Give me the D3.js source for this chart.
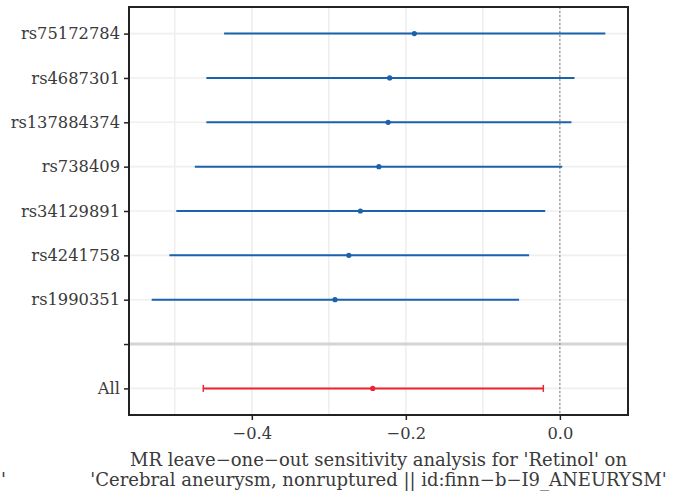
<!DOCTYPE html>
<html>
<head>
<meta charset="utf-8">
<script src="https://cdn.jsdelivr.net/npm/d3@7"></script>
<style>
  body { margin: 0; background: #fff; }
</style>
</head>
<body>
<div id="viz-container"></div>
<script>
// leave-one-out estimates (top row first)
const snps = ["rs75172784", "rs4687301", "rs137884374", "rs738409", "rs34129891", "rs4241758", "rs1990351", "", "All"];
const estimate = [-0.189, -0.221, -0.223, -0.235, -0.259, -0.274, -0.292, null, -0.243];
const lower = [-0.436, -0.459, -0.459, -0.474, -0.498, -0.507, -0.530, null, -0.463];
const upper = [0.059, 0.019, 0.015, 0.003, -0.019, -0.040, -0.053, null, -0.0215];
const xTicks = [-0.4, -0.2, 0.0];
const xMinor = [-0.5, -0.3, -0.1];
const titleLines = ["MR leave\u2212one\u2212out sensitivity analysis for 'Retinol' on",
  "'Cerebral aneurysm, nonruptured || id:finn\u2212b\u2212I9_ANEURYSM'"];

const width = 683, height = 499;
const margin = {top: 7, right: 55, bottom: 84, left: 129};
const serif = "'DejaVu Serif', serif";
const textColour = "#3a3a3a";

const rows = snps.map((s, i) => ({snp: s, b: estimate[i], lo: lower[i], hi: upper[i]}))
  .filter(d => d.b !== null);

const svg = d3.select("#viz-container").append("svg")
  .attr("width", width)
  .attr("height", height)
  .style("font-family", serif);

// x domain from the data plus the zero line, with ggplot's 5% expansion
const ext = d3.extent(rows.flatMap(d => [d.lo, d.hi]).concat([0]));
const pad = (ext[1] - ext[0]) * 0.05;
const x = d3.scaleLinear()
  .domain([ext[0] - pad, ext[1] + pad])
  .range([margin.left, width - margin.right]);

const y = d3.scalePoint()
  .domain(snps)
  .range([margin.top, height - margin.bottom])
  .padding(0.6);

const plot = svg.append("g");

// grid lines
plot.selectAll(".vgrid").data(xTicks.concat(xMinor)).join("line")
  .attr("x1", d => x(d)).attr("x2", d => x(d))
  .attr("y1", margin.top).attr("y2", height - margin.bottom)
  .attr("stroke", "#efefef").attr("stroke-width", 1.6);

plot.selectAll(".hgrid").data(snps.filter(s => s !== "")).join("line")
  .attr("x1", margin.left).attr("x2", width - margin.right)
  .attr("y1", d => y(d)).attr("y2", d => y(d))
  .attr("stroke", "#efefef").attr("stroke-width", 1.6);

// separator between single SNPs and the overall estimate
plot.append("line")
  .attr("x1", margin.left).attr("x2", width - margin.right)
  .attr("y1", y("")).attr("y2", y(""))
  .attr("stroke", "#d4d4d4").attr("stroke-width", 3);

// null effect line
plot.append("line")
  .attr("x1", x(0)).attr("x2", x(0))
  .attr("y1", margin.top).attr("y2", height - margin.bottom)
  .attr("stroke", "#8c8c8c").attr("stroke-width", 1.1)
  .attr("stroke-dasharray", "2,2");

const colour = d => d.snp === "All" ? "#ee2233" : "#1b62ac";

// error bars
plot.selectAll(".bar").data(rows).join("line")
  .attr("x1", d => x(d.lo)).attr("x2", d => x(d.hi))
  .attr("y1", d => y(d.snp)).attr("y2", d => y(d.snp))
  .attr("stroke", colour).attr("stroke-width", 2);

// caps only on the overall estimate
const all = rows.filter(d => d.snp === "All");
plot.selectAll(".cap").data(all.flatMap(d => [d.lo, d.hi].map(v => ({v: v, d: d})))).join("line")
  .attr("x1", c => x(c.v)).attr("x2", c => x(c.v))
  .attr("y1", c => y(c.d.snp) - 3.5).attr("y2", c => y(c.d.snp) + 3.5)
  .attr("stroke", c => colour(c.d)).attr("stroke-width", 1.5);

plot.selectAll(".pt").data(rows).join("circle")
  .attr("cx", d => x(d.b)).attr("cy", d => y(d.snp))
  .attr("r", 2.6)
  .attr("fill", colour);

// axes
const yAxis = svg.append("g")
  .attr("transform", `translate(${margin.left},0)`)
  .call(d3.axisLeft(y).tickSize(5).tickPadding(4));
const xAxis = svg.append("g")
  .attr("transform", `translate(0,${height - margin.bottom})`)
  .call(d3.axisBottom(x).tickValues(xTicks).tickSize(5).tickPadding(7)
    .tickFormat(d => d3.format(".1f")(d).replace("-", "\u2212")));

[yAxis, xAxis].forEach(a => {
  a.attr("font-family", null).attr("font-size", null);
  a.select(".domain").remove();
  a.selectAll(".tick line").attr("stroke", "#222").attr("stroke-width", 1.5);
  a.selectAll("text").attr("fill", textColour)
    .style("font-family", serif).style("font-size", "16.3px");
});

// panel border
svg.append("rect")
  .attr("x", margin.left).attr("y", margin.top)
  .attr("width", width - margin.right - margin.left)
  .attr("height", height - margin.bottom - margin.top)
  .attr("fill", "none").attr("stroke", "#222").attr("stroke-width", 2);

// axis title, centred on the panel
const cx = (margin.left + width - margin.right) / 2;
svg.selectAll(".title").data(titleLines).join("text")
  .attr("x", cx).attr("y", (d, i) => 466 + i * 20)
  .attr("text-anchor", "middle")
  .attr("fill", textColour)
  .style("font-family", serif)
  .style("font-size", "18px")
  .text(d => d);

// stray quote at the far left of the second line
svg.append("text").attr("x", 1).attr("y", 486).attr("fill", textColour)
  .style("font-family", serif).style("font-size", "18px").text("'");
</script>
</body>
</html>
